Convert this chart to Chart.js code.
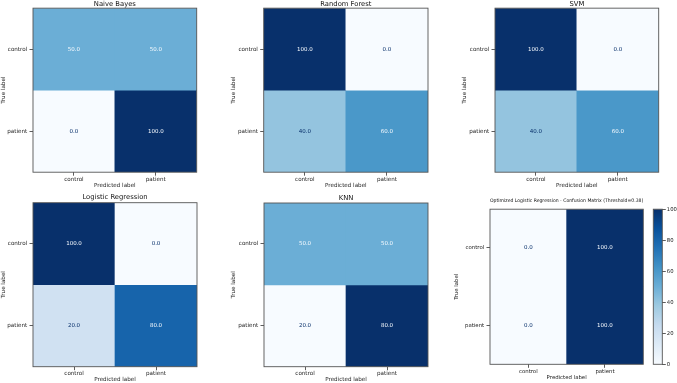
<!DOCTYPE html>
<html><head><meta charset="utf-8">
<script src="https://cdn.jsdelivr.net/npm/chart.js@4.4.0/dist/chart.umd.min.js"></script>
<style>
html,body{margin:0;padding:0;background:#fff;width:677px;height:383px;overflow:hidden;position:relative;}
canvas{position:absolute;}
</style></head><body>
<canvas id="p0"></canvas><canvas id="p1"></canvas><canvas id="p2"></canvas>
<canvas id="p3"></canvas><canvas id="p4"></canvas><canvas id="p5"></canvas>
<canvas id="cbar"></canvas>
<script>
// ---- data ----
const categories = ['control', 'patient'];
const titles = ['Naive Bayes', 'Random Forest', 'SVM', 'Logistic Regression', 'KNN',
  'Optimized Logistic Regression - Confusion Matrix (Threshold=0.38)'];
const naiveBayes = [[50.0, 50.0], [0.0, 100.0]];
const randomForest = [[100.0, 0.0], [40.0, 60.0]];
const svm = [[100.0, 0.0], [40.0, 60.0]];
const logisticRegression = [[100.0, 0.0], [20.0, 80.0]];
const knn = [[50.0, 50.0], [20.0, 80.0]];
const optimizedLR = [[0.0, 100.0], [0.0, 100.0]];
const colorbarTicks = [0, 20, 40, 60, 80, 100];
const xAxisLabel = 'Predicted label';
const yAxisLabel = 'True label';

// ---- style ----
const FAMILY = '"DejaVu Sans", sans-serif';
const BLUES = [[247,251,255],[222,235,247],[198,219,239],[158,202,225],[107,174,214],
  [66,146,198],[33,113,181],[8,81,156],[8,48,107]];
function blues(t) {
  t = Math.max(0, Math.min(1, t));
  const p = t * (BLUES.length - 1), i = Math.min(Math.floor(p), BLUES.length - 2), f = p - i;
  const c = BLUES[i].map((a, k) => Math.round(a + (BLUES[i + 1][k] - a) * f));
  return `rgb(${c[0]},${c[1]},${c[2]})`;
}
const DARK_TEXT = blues(1), LIGHT_TEXT = blues(0);

// layout: canvas [x,y,w,h], plot [l,t,r,b]
const layouts = [
  {canvas:[0,0,222,192],   plot:[33,8,196.7,172.2],     titleY:4,     yTitleX:3,     xTitleY:186,   tick:5.6, title:6.8, cell:5.5},
  {canvas:[222,0,230,192], plot:[263.7,8,428,172.2],    titleY:4,     yTitleX:233.3, xTitleY:186,   tick:5.6, title:6.8, cell:5.5},
  {canvas:[452,0,225,192], plot:[495,8,658.7,172.2],    titleY:4,     yTitleX:464.3, xTitleY:186,   tick:5.6, title:6.8, cell:5.5},
  {canvas:[0,193,222,190], plot:[33,202.7,197,366.7],   titleY:197.7, yTitleX:3,     xTitleY:379.3, tick:5.6, title:6.8, cell:5.5},
  {canvas:[222,193,230,190], plot:[264,203,428,366.7],  titleY:198.3, yTitleX:233.3, xTitleY:379.3, tick:5.6, title:6.8, cell:5.5},
  {canvas:[445,193,205,190], plot:[490,209.2,643.3,364.3], titleY:200.5, yTitleX:457, xTitleY:378, tick:5.4, title:4.9, cell:5.5}
];
const matrices = [naiveBayes, randomForest, svm, logisticRegression, knn, optimizedLR];

const framePlugin = {
  id: 'frame',
  afterDraw(chart) {
    const a = chart.chartArea, c = chart.ctx;
    c.save(); c.strokeStyle = '#555'; c.lineWidth = 0.9;
    c.strokeRect(a.left, a.top, a.right - a.left, a.bottom - a.top);
    c.restore();
  }
};

function place(cv, L) {
  const [x, y, w, h] = L.canvas;
  cv.width = w; cv.height = h;
  cv.style.left = x + 'px'; cv.style.top = y + 'px';
  cv.style.width = w + 'px'; cv.style.height = h + 'px';
}

matrices.forEach((m, idx) => {
  const L = layouts[idx];
  const cv = document.getElementById('p' + idx);
  place(cv, L);
  const [cx, cy, cw, ch] = L.canvas;
  const [pl, pt, pr, pb] = L.plot;
  const n = categories.length;
  const flat = m.flat();
  const vmin = Math.min(...flat), vmax = Math.max(...flat);
  const norm = v => vmax === vmin ? 0 : (v - vmin) / (vmax - vmin);
  const thresh = (vmin + vmax) / 2;
  const tLH = L.title * 1.2;
  let tPadTop = Math.max(0, L.titleY - cy - tLH / 2);
  let tPadBot = Math.max(0, pt - cy - tPadTop - tLH);
  const aLH = L.tick * 1.2;

  const cellText = {
    id: 'cellText',
    afterDatasetsDraw(chart) {
      const c = chart.ctx;
      c.save();
      c.font = `${L.cell}px ${FAMILY}`;
      c.textAlign = 'center'; c.textBaseline = 'middle';
      chart.data.datasets.forEach((ds, i) => {
        chart.getDatasetMeta(i).data.forEach((el, j) => {
          const v = m[i][j];
          c.fillStyle = v < thresh ? DARK_TEXT : LIGHT_TEXT;
          c.fillText(v.toFixed(1), el.x, (el.y + el.base) / 2);
        });
      });
      c.restore();
    }
  };

  new Chart(cv, {
    type: 'bar',
    data: {
      labels: categories,
      datasets: m.map((row, i) => ({
        label: categories[i],
        data: row.map(() => [n - 1 - i, n - i]),
        backgroundColor: row.map(v => blues(norm(v))),
        borderWidth: 0,
        grouped: false,
        barPercentage: 1,
        categoryPercentage: 1
      }))
    },
    options: {
      responsive: false, animation: false, devicePixelRatio: 1,
      layout: {padding: {left: 0, top: 0, right: cx + cw - pr, bottom: 0}},
      plugins: {
        legend: {display: false}, tooltip: {enabled: false},
        title: {display: true, text: titles[idx], fullSize: false, color: '#111',
          font: {family: FAMILY, size: L.title, weight: 'normal'},
          padding: {top: tPadTop, bottom: tPadBot}}
      },
      scales: {
        x: {
          type: 'category', offset: true,
          afterFit: s => { s.height = cy + ch - pb; },
          grid: {offset: false, drawOnChartArea: false, drawTicks: true, tickLength: 3.5, color: '#333', lineWidth: 0.8},
          border: {display: false},
          ticks: {font: {family: FAMILY, size: L.tick}, color: '#222', padding: 0.2, maxRotation: 0, autoSkip: false},
          title: {display: true, text: xAxisLabel, color: '#222', font: {family: FAMILY, size: L.tick},
            padding: {top: 0, bottom: Math.max(0, cy + ch - L.xTitleY - aLH / 2)}}
        },
        y: {
          type: 'linear', min: 0, max: n,
          afterBuildTicks: s => { s.ticks = categories.map((c, i) => ({value: n - 0.5 - i})); },
          afterFit: s => { s.width = pl - cx; },
          grid: {drawOnChartArea: false, drawTicks: true, tickLength: 3.5, color: '#333', lineWidth: 0.8},
          border: {display: false},
          ticks: {font: {family: FAMILY, size: L.tick}, color: '#222', padding: 2.3,
            callback: v => categories[Math.round(n - 0.5 - v)]},
          title: {display: true, text: yAxisLabel, color: '#222', font: {family: FAMILY, size: L.tick},
            padding: {top: Math.max(0, L.yTitleX - cx - aLH / 2), bottom: 0}}
        }
      }
    },
    plugins: [cellText, framePlugin]
  });
});

// ---- colorbar ----
const CB = {canvas: [645, 193, 32, 190], plot: [653.3, 209.2, 662.3, 364.3], tick: 5.3};
const cbv = document.getElementById('cbar');
place(cbv, CB);
const cbMin = colorbarTicks[0], cbMax = colorbarTicks[colorbarTicks.length - 1];
new Chart(cbv, {
  type: 'bar',
  data: {
    labels: [''],
    datasets: [{
      data: [[cbMin, cbMax]],
      backgroundColor: (ctx) => {
        const chart = ctx.chart;
        if (!chart.chartArea) return blues(0.5);
        const y = chart.scales.y;
        const g = chart.ctx.createLinearGradient(0, y.getPixelForValue(cbMin), 0, y.getPixelForValue(cbMax));
        BLUES.forEach((c, i) => g.addColorStop(i / (BLUES.length - 1), `rgb(${c[0]},${c[1]},${c[2]})`));
        return g;
      },
      borderWidth: 0, barPercentage: 1, categoryPercentage: 1
    }]
  },
  options: {
    responsive: false, animation: false, devicePixelRatio: 1,
    layout: {padding: {left: CB.plot[0] - CB.canvas[0], top: CB.plot[1] - CB.canvas[1],
      bottom: CB.canvas[1] + CB.canvas[3] - CB.plot[3], right: 0}},
    plugins: {legend: {display: false}, tooltip: {enabled: false}},
    scales: {
      x: {display: false},
      y: {
        position: 'right', min: cbMin, max: cbMax,
        afterBuildTicks: s => { s.ticks = colorbarTicks.map(v => ({value: v})); },
        afterFit: s => { s.width = CB.canvas[0] + CB.canvas[2] - CB.plot[2]; },
        grid: {drawOnChartArea: false, drawTicks: true, tickLength: 3.5, color: '#333', lineWidth: 0.8},
        border: {display: false},
        ticks: {font: {family: FAMILY, size: CB.tick}, color: '#222', padding: 1}
      }
    }
  },
  plugins: [framePlugin]
});
</script>
</body></html>
